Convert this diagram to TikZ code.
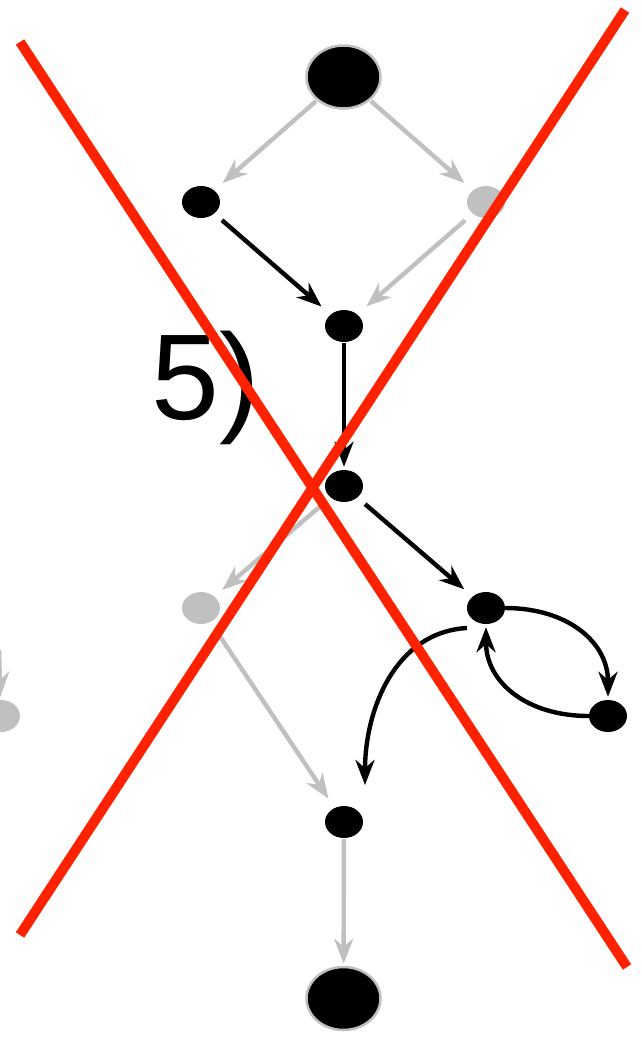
\documentclass[tikz,border=0pt]{standalone}
\usepackage{fontspec}
\setmainfont{Liberation Sans}
\usetikzlibrary{arrows.meta,calc,shapes.geometric}
\definecolor{lgray}{HTML}{C0C0C0}
\definecolor{xred}{HTML}{FF2200}
\begin{document}
\begin{tikzpicture}[x=1pt,y=-1pt,
  dot/.style={ellipse, fill=black, minimum width=38pt, minimum height=32pt, inner sep=0pt},
  gdot/.style={dot, fill=lgray},
  bigdot/.style={ellipse, fill=black, draw=lgray, line width=2.5pt, minimum width=74pt, minimum height=63pt, inner sep=0pt},
  tipped/.style={-{Stealth[length=25pt,width=19pt,inset=8pt]}},
  bl/.style={tipped, line width=4.4pt, draw=black},
  gl/.style={tipped, line width=4.4pt, draw=lgray},
  cross/.style={draw=xred, line width=10pt}]
\useasboundingbox (0,0) rectangle (642,1038);
\clip (0,0) rectangle (642,1038);
% nodes
\node[bigdot] (top) at (343.5,77) {};
\node[dot]  (A) at (201,202) {};
\node[gdot] (B) at (486,202) {};
\node[dot]  (C) at (344,326) {};
\node[dot]  (D) at (344,486) {};
\node[gdot] (E) at (201,608) {};
\node[dot]  (F) at (486,608) {};
\node[dot]  (G) at (608,716) {};
\node[gdot] (H) at (1,716) {};
\node[dot]  (I) at (344,822) {};
\node[bigdot] (bot) at (343.5,998.5) {};
\coordinate (hin) at (-1,650);
% straight edges
\draw[gl, shorten <=1pt, shorten >=11pt] (top) -- (A);
\draw[gl, shorten <=1pt, shorten >=11pt] (top) -- (B);
\draw[bl, shorten <=10pt, shorten >=12pt] (A) -- (C);
\draw[gl, shorten <=10pt, shorten >=12pt] (B) -- (C);
\draw[bl, shorten <=1pt, shorten >=3pt] (C) -- (D);
\draw[gl, shorten <=11pt, shorten >=10pt] (D) -- (E);
\draw[bl, shorten <=10pt, shorten >=11pt] (D) -- (F);
\draw[gl, shorten <=10pt, shorten >=11pt] (E) -- (I);
\draw[gl, shorten <=1pt, shorten >=2pt] (I) -- (bot);
\draw[gl, shorten >=3pt] (hin) -- (H);
% curved edges
\draw[bl, shorten >=3pt] (F.east) .. controls +(62,0) and +(0,-58) .. (G.north);
\draw[bl, shorten >=3pt] (G.west) .. controls +(-62,0) and +(0,58) .. (F.south);
\draw[bl] ($(F)+(-19,20)$) .. controls +(-72,4) and +(0,-75) .. ($(I)+(21,-37)$);
% label
\node[anchor=base west, inner sep=0pt, font=\fontsize{122}{126}\selectfont] (lbl) at (151,419) {5)};
% red cross
\coordinate (r1a) at (20,42);
\coordinate (r1b) at (627,967);
\coordinate (r2a) at (625,10);
\coordinate (r2b) at (20,935);
\draw[cross] (r1a) -- (r1b);
\draw[cross] (r2a) -- (r2b);
\end{tikzpicture}
\end{document}
